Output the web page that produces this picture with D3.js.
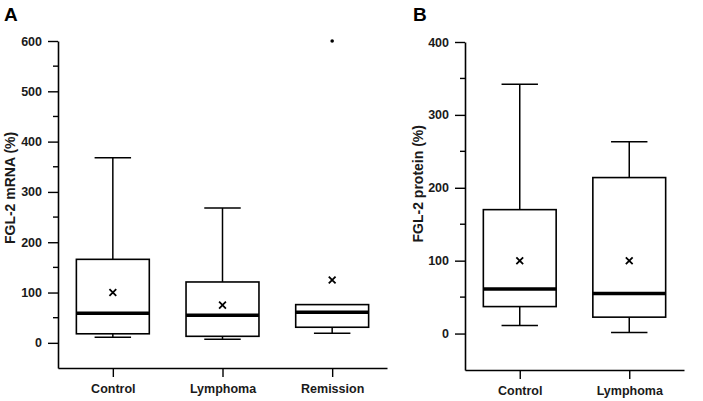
<!DOCTYPE html>
<html>
<head>
<meta charset="utf-8">
<script src="https://cdn.jsdelivr.net/npm/d3@7"></script>
<style>
  body { margin: 0; background: #fff; }
  svg { display: block; font-family: "Liberation Sans", Arial, sans-serif; }
  .tick text { font-size: 12.5px; font-weight: bold; fill: #1a1a1a; }
</style>
</head>
<body>
<svg id="chart" width="703" height="401"></svg>
<script>
// panel A: FGL-2 mRNA
const mrnaGroups = ['Control', 'Lymphoma', 'Remission'];
const mrnaLow = [11, 7, 19];
const mrnaQ1 = [18, 13, 31];
const mrnaMedian = [59, 55, 61];
const mrnaQ3 = [166, 121, 76];
const mrnaHigh = [368, 268, 76];
const mrnaMean = [100, 75, 125];
const mrnaOutliers = [{ group: 'Remission', value: 600 }];
const mrnaTicks = [0, 100, 200, 300, 400, 500, 600];

// panel B: FGL-2 protein
const proteinGroups = ['Control', 'Lymphoma'];
const proteinLow = [11, 1.5];
const proteinQ1 = [37, 22.5];
const proteinMedian = [61, 55];
const proteinQ3 = [170, 214];
const proteinHigh = [342, 263];
const proteinMean = [100, 100];
const proteinOutliers = [];
const proteinTicks = [0, 100, 200, 300, 400];

const svg = d3.select('#chart');

function toBoxes(groups, low, q1, med, q3, high, mean) {
  return groups.map((g, i) => ({
    group: g, low: low[i], q1: q1[i], median: med[i], q3: q3[i], high: high[i], mean: mean[i]
  }));
}

function drawPanel(opts) {
  const { letter, letterX, title, titleX, left, right, top, bottom, yMax, ticks, boxes, outliers } = opts;
  const g = svg.append('g');

  const y = d3.scaleLinear().domain([-50, yMax]).range([bottom, top]);
  const x = d3.scalePoint().domain(boxes.map(d => d.group)).range([left, right]).padding(0.5);
  const boxW = x.step() * 0.665;
  const capW = boxW / 2;

  // y axis, majors
  const yAxis = g.append('g')
    .attr('transform', `translate(${left},0)`)
    .call(d3.axisLeft(y).tickValues(ticks).tickSize(10).tickSizeOuter(0).tickPadding(6));
  yAxis.select('.domain').attr('stroke-width', 1.6);
  yAxis.selectAll('.tick line').attr('stroke-width', 1.4);

  // minor ticks
  const minor = d3.range(50, yMax, 100);
  g.append('g').selectAll('line')
    .data(minor)
    .join('line')
    .attr('x1', left - 5).attr('x2', left)
    .attr('y1', d => y(d)).attr('y2', d => y(d))
    .attr('stroke', '#000').attr('stroke-width', 1.4);

  // x axis
  const xAxis = g.append('g')
    .attr('transform', `translate(0,${bottom})`)
    .call(d3.axisBottom(x).tickSize(9).tickSizeOuter(0).tickPadding(5));
  xAxis.select('.domain').attr('stroke-width', 1.6);
  xAxis.selectAll('.tick line').attr('stroke-width', 1.4);
  xAxis.selectAll('.tick text').attr('dy', '0.85em');

  // whiskers
  const b = g.append('g').selectAll('g.box')
    .data(boxes)
    .join('g')
    .attr('class', 'box');

  b.append('line')
    .attr('x1', d => x(d.group)).attr('x2', d => x(d.group))
    .attr('y1', d => y(d.high)).attr('y2', d => y(d.q3))
    .attr('stroke', '#000').attr('stroke-width', 1.5);
  b.append('line')
    .attr('x1', d => x(d.group)).attr('x2', d => x(d.group))
    .attr('y1', d => y(d.q1)).attr('y2', d => y(d.low))
    .attr('stroke', '#000').attr('stroke-width', 1.5);
  b.filter(d => d.high > d.q3).append('line')
    .attr('x1', d => x(d.group) - capW / 2).attr('x2', d => x(d.group) + capW / 2)
    .attr('y1', d => y(d.high)).attr('y2', d => y(d.high))
    .attr('stroke', '#000').attr('stroke-width', 1.5);
  b.append('line')
    .attr('x1', d => x(d.group) - capW / 2).attr('x2', d => x(d.group) + capW / 2)
    .attr('y1', d => y(d.low)).attr('y2', d => y(d.low))
    .attr('stroke', '#000').attr('stroke-width', 1.5);

  b.append('rect')
    .attr('x', d => x(d.group) - boxW / 2)
    .attr('width', boxW)
    .attr('y', d => y(d.q3))
    .attr('height', d => y(d.q1) - y(d.q3))
    .attr('fill', '#fff')
    .attr('stroke', '#000')
    .attr('stroke-width', 1.6);

  b.append('line')
    .attr('x1', d => x(d.group) - boxW / 2).attr('x2', d => x(d.group) + boxW / 2)
    .attr('y1', d => y(d.median)).attr('y2', d => y(d.median))
    .attr('stroke', '#000').attr('stroke-width', 3.5);

  // mean marker
  const m = 3.4;
  b.append('path')
    .attr('d', d => {
      const cx = x(d.group), cy = y(d.mean);
      return `M${cx - m},${cy - m}L${cx + m},${cy + m}M${cx - m},${cy + m}L${cx + m},${cy - m}`;
    })
    .attr('stroke', '#000').attr('stroke-width', 1.8);

  g.append('g').selectAll('circle')
    .data(outliers)
    .join('circle')
    .attr('cx', d => x(d.group))
    .attr('cy', d => y(d.value))
    .attr('r', 1.8)
    .attr('fill', '#000');

  // axis title
  const midY = (y(0) + y(yMax)) / 2 - 4;
  g.append('text')
    .attr('transform', `translate(${titleX},${midY}) rotate(-90)`)
    .attr('text-anchor', 'middle')
    .attr('font-size', 14)
    .attr('font-weight', 'bold')
    .attr('fill', '#1a1a1a')
    .text(title);

  g.append('text')
    .attr('x', letterX).attr('y', 21)
    .attr('font-size', 19)
    .attr('font-weight', 'bold')
    .text(letter);
}

drawPanel({
  letter: 'A', letterX: 4,
  title: 'FGL-2 mRNA (%)', titleX: 15,
  left: 58, right: 387, top: 41, bottom: 368,
  yMax: 600, ticks: mrnaTicks,
  boxes: toBoxes(mrnaGroups, mrnaLow, mrnaQ1, mrnaMedian, mrnaQ3, mrnaHigh, mrnaMean),
  outliers: mrnaOutliers
});

drawPanel({
  letter: 'B', letterX: 413,
  title: 'FGL-2 protein (%)', titleX: 423,
  left: 465, right: 684, top: 42, bottom: 370,
  yMax: 400, ticks: proteinTicks,
  boxes: toBoxes(proteinGroups, proteinLow, proteinQ1, proteinMedian, proteinQ3, proteinHigh, proteinMean),
  outliers: proteinOutliers
});
</script>
</body>
</html>
